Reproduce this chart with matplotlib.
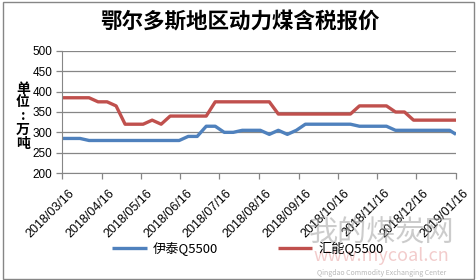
import numpy as np
import pandas as pd
import matplotlib
matplotlib.use('Agg')
import matplotlib.pyplot as plt
import matplotlib.transforms as mtransforms
from matplotlib.patches import Rectangle

plt.rcParams['font.family'] = ['Noto Sans CJK SC', 'DejaVu Sans']

# weekly quotes, last one mid-week
dates = list(pd.date_range('2018-03-16', '2019-01-11', freq='7D')) + [pd.Timestamp('2019-01-16')]
yitai = [285, 285, 285, 280, 280, 280, 280, 280, 280, 280,
         280, 280, 280, 280, 290, 290, 315, 315, 300, 300,
         305, 305, 305, 295, 305, 295, 305, 320, 320, 320,
         320, 320, 320, 315, 315, 315, 315, 305, 305, 305,
         305, 305, 305, 305, 295]
huineng = [385, 385, 385, 385, 375, 375, 365, 320, 320, 320,
           330, 320, 340, 340, 340, 340, 340, 375, 375, 375,
           375, 375, 375, 375, 345, 345, 345, 345, 345, 345,
           345, 345, 345, 365, 365, 365, 365, 350, 350, 330,
           330, 330, 330, 330, 330]
series_names = ['伊泰Q5500', '汇能Q5500']
tick_dates = pd.date_range('2018-03-01', '2019-01-01', freq='MS') + pd.Timedelta(days=15)
title = '鄂尔多斯地区动力煤含税报价'

fig = plt.figure(figsize=(4.77, 2.8), dpi=100)
ax = fig.add_axes([0.130, 0.382, 0.826, 0.436])

ax.plot(dates, yitai, color='#4F81BD', lw=2.4, label=series_names[0], solid_capstyle='butt')
ax.plot(dates, huineng, color='#C0504D', lw=2.4, label=series_names[1], solid_capstyle='butt')

ax.set_ylim(200, 500)
ax.set_yticks(np.arange(200, 501, 50))
ax.set_xlim(tick_dates[0], tick_dates[-1])
ax.set_xticks(tick_dates)
ax.set_xticklabels([d.strftime('%Y/%m/%d') for d in tick_dates])
ax.grid(axis='y', color='#868686', lw=0.9)
ax.set_axisbelow(True)

for s in ['top', 'right']:
    ax.spines[s].set_visible(False)
for s in ['left', 'bottom']:
    ax.spines[s].set_color('#868686')
ax.tick_params(axis='both', colors='#868686', length=4, width=0.9, direction='out')
ax.tick_params(axis='y', labelsize=8.5, labelcolor='black', pad=3)
ax.tick_params(axis='x', labelsize=9, labelcolor='black', pad=1)
for lab in ax.get_yticklabels():
    lab.set_family(['Liberation Sans'])
shift = mtransforms.ScaledTranslation(6 / 100, -7 / 100, fig.dpi_scale_trans)
for lab in ax.get_xticklabels():
    lab.set_family(['Liberation Sans'])
    lab.set_rotation(45)
    lab.set_ha('right')
    lab.set_rotation_mode('anchor')
    lab.set_transform(lab.get_transform() + shift)

fig.text(0.502, 0.92, title, ha='center', va='center', fontsize=15.5, fontweight='bold')
fig.text(0.048, 0.585, '单\n位\n:\n万\n吨', ha='center', va='center', fontsize=10,
         fontweight='bold', linespacing=0.98)

# watermark
fig.text(0.80, 0.165, '我的煤炭网', ha='center', va='center', fontsize=21, color='#9a9a9a', alpha=0.5)
fig.text(0.80, 0.085, 'www.mycoal.cn', ha='center', va='center', fontsize=13, color='#e08080', alpha=0.4)
fig.text(0.80, 0.025, 'Qingdao Commodity Exchanging Center', ha='center', va='center', fontsize=5,
         color='#888888', alpha=0.6)

fig.legend(loc='center', bbox_to_anchor=(0.52, 0.112), ncol=2, frameon=False, fontsize=9.5,
           handlelength=2.6, columnspacing=4.5, handletextpad=0.5)

fig.add_artist(Rectangle((0.006, 0.004), 0.988, 0.99, transform=fig.transFigure,
                         fill=False, edgecolor='#868686', lw=1.0))

fig.savefig('out.png', dpi=100)
